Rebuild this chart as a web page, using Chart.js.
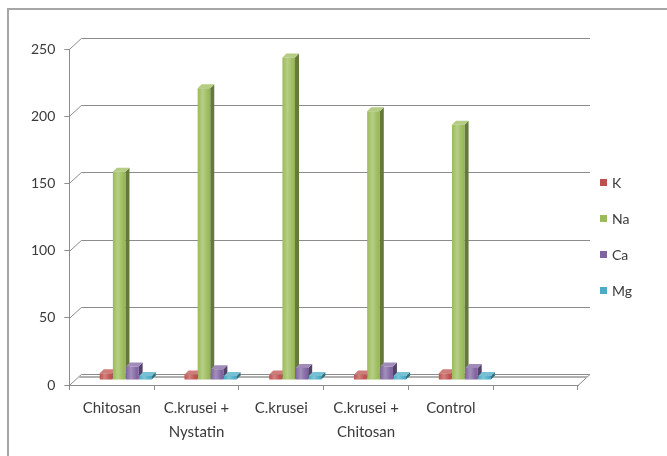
<!DOCTYPE html>
<html>
<head>
<meta charset="utf-8">
<script src="https://cdn.jsdelivr.net/npm/chart.js@4.4.1/dist/chart.umd.min.js"></script>
<style>
  html, body { margin: 0; padding: 0; background: #fff; }
  #wrap { position: relative; width: 667px; height: 456px; overflow: hidden; background: #fff; }
  #frame { position: absolute; left: 7px; top: 8px; width: 670px; height: 460px;
           border: 2px solid #a6a6a6; box-sizing: border-box; }
  #chart { position: absolute; left: 0; top: 0; }
  #legend { position: absolute; left: 600px; top: 164px; font-family: Lato, "Open Sans", sans-serif;
            font-size: 14px; color: #3a3a3a; }
  #legend .item { height: 36px; display: flex; align-items: center; }
  #legend .sw { width: 7px; height: 7px; margin-right: 5px; }
</style>
</head>
<body>
<div id="wrap">
  <div id="frame"></div>
  <canvas id="chart" width="667" height="456"></canvas>
  <div id="legend"></div>
</div>
<script>
// Mineral content per treatment group
const categories = ["Chitosan", ["C.krusei +", "Nystatin"], "C.krusei", ["C.krusei +", "Chitosan"], "Control", ""];
const seriesNames = ["K", "Na", "Ca", "Mg"];
const kValues  = [5, 4, 4, 4, 5, null];
const naValues = [155, 217, 240, 200, 190, null];
const caValues = [10, 8, 9, 10, 9, null];
const mgValues = [3, 3, 3, 3, 3, null];
const yTicks = [0, 50, 100, 150, 200, 250];
const seriesColors = ["#C0504D", "#9BBB59", "#8064A2", "#4BACC6"];

function shade(hex, f) {
  const n = parseInt(hex.slice(1), 16);
  let r = (n >> 16) & 255, g = (n >> 8) & 255, b = n & 255;
  if (f < 0) { r *= 1 + f; g *= 1 + f; b *= 1 + f; }
  else { r += (255 - r) * f; g += (255 - g) * f; b += (255 - b) * f; }
  return `rgb(${Math.round(r)},${Math.round(g)},${Math.round(b)})`;
}

// Depth of the box walls and of the bar row
const WALL_DX = 12, WALL_DY = -11;
const BAR_DX = 14, BAR_DY = -5;
const FACE = 4;

const perspective = {
  id: 'perspective',
  beforeDatasetsDraw(chart) {
    const { ctx, chartArea: a, scales: { y } } = chart;
    ctx.save();
    ctx.lineWidth = 1;
    ctx.strokeStyle = '#8c8c8c';
    yTicks.forEach(v => {
      const py = Math.round(y.getPixelForValue(v)) + 0.5;
      ctx.beginPath();
      ctx.moveTo(a.left, py);
      ctx.lineTo(a.left + WALL_DX, py + WALL_DY);
      ctx.lineTo(a.right + WALL_DX, py + WALL_DY);
      if (v === 0) ctx.lineTo(a.right, py);
      ctx.stroke();
    });
    // floor band
    const p0 = Math.round(y.getPixelForValue(0));
    ctx.strokeStyle = '#b0b0b0';
    ctx.lineWidth = 2;
    ctx.beginPath();
    ctx.moveTo(a.left + WALL_DX - 2, p0 + WALL_DY + 3);
    ctx.lineTo(a.right + WALL_DX - 3, p0 + WALL_DY + 3);
    ctx.stroke();
    ctx.restore();

    ctx.save();
    ctx.translate(BAR_DX, BAR_DY);
    // side and top faces, drawn behind the front faces
    chart.data.datasets.forEach((ds, di) => {
      const meta = chart.getDatasetMeta(di);
      meta.data.forEach((el, i) => {
        if (ds.data[i] == null) return;
        const { x, y: top, base, width } = el.getProps(['x', 'y', 'base', 'width'], true);
        const l = x - width / 2, r = x + width / 2;
        ctx.fillStyle = shade(seriesColors[di], -0.35);
        ctx.beginPath();
        ctx.moveTo(r, top); ctx.lineTo(r + FACE, top - FACE);
        ctx.lineTo(r + FACE, base - FACE); ctx.lineTo(r, base);
        ctx.closePath(); ctx.fill();
        ctx.fillStyle = shade(seriesColors[di], 0.25);
        ctx.beginPath();
        ctx.moveTo(l, top); ctx.lineTo(l + FACE, top - FACE);
        ctx.lineTo(r + FACE, top - FACE); ctx.lineTo(r, top);
        ctx.closePath(); ctx.fill();
      });
    });
  },
  afterDatasetsDraw(chart) {
    const { ctx } = chart;
    chart.data.datasets.forEach((ds, di) => {
      const meta = chart.getDatasetMeta(di);
      meta.data.forEach((el, i) => {
        if (ds.data[i] == null) return;
        const { x, y: top, base, width } = el.getProps(['x', 'y', 'base', 'width'], true);
        const l = x - width / 2;
        const g = ctx.createLinearGradient(l, 0, l + width, 0);
        g.addColorStop(0, 'rgba(255,255,255,0)');
        g.addColorStop(0.4, 'rgba(255,255,255,0.28)');
        g.addColorStop(0.85, 'rgba(255,255,255,0)');
        g.addColorStop(1, 'rgba(0,0,0,0.12)');
        ctx.fillStyle = g;
        ctx.fillRect(l, top, width, base - top);
      });
    });
    ctx.restore();
  }
};

const valueSets = [kValues, naValues, caValues, mgValues];
const datasets = seriesNames.map((name, i) => ({
  label: name,
  data: valueSets[i],
  backgroundColor: seriesColors[i],
  borderWidth: 0,
  categoryPercentage: 0.62,
  barPercentage: 0.96,
  clip: false
}));

const fontFamily = 'Lato, "Open Sans", sans-serif';

const chart = new Chart(document.getElementById('chart'), {
  type: 'bar',
  data: { labels: categories, datasets },
  plugins: [perspective],
  options: {
    responsive: false,
    animation: false,
    layout: { padding: { left: 22, right: 89, top: 49, bottom: 6 } },
    plugins: { legend: { display: false }, tooltip: { enabled: false } },
    scales: {
      x: {
        offset: true,
        grid: { offset: true, drawOnChartArea: false, drawTicks: true, tickLength: 5, color: '#8c8c8c' },
        border: { display: true, color: '#8c8c8c' },
        ticks: { font: { family: fontFamily, size: 15, lineHeight: 1.6 }, color: '#3a3a3a', maxRotation: 0, autoSkip: false, padding: 6 }
      },
      y: {
        min: 0, max: 250,
        afterBuildTicks: s => { s.ticks = yTicks.map(v => ({ value: v })); },
        grid: { drawOnChartArea: false, drawTicks: true, tickLength: 5, color: '#8c8c8c' },
        border: { display: true, color: '#8c8c8c' },
        ticks: { font: { family: fontFamily, size: 14 }, color: '#3a3a3a', padding: 9 }
      }
    }
  }
});

// legend beside the plot
const legend = document.getElementById('legend');
seriesNames.forEach((name, i) => {
  const item = document.createElement('div');
  item.className = 'item';
  const sw = document.createElement('span');
  sw.className = 'sw';
  sw.style.background = seriesColors[i];
  const tx = document.createElement('span');
  tx.textContent = name;
  item.appendChild(sw); item.appendChild(tx);
  legend.appendChild(item);
});
</script>
</body>
</html>
